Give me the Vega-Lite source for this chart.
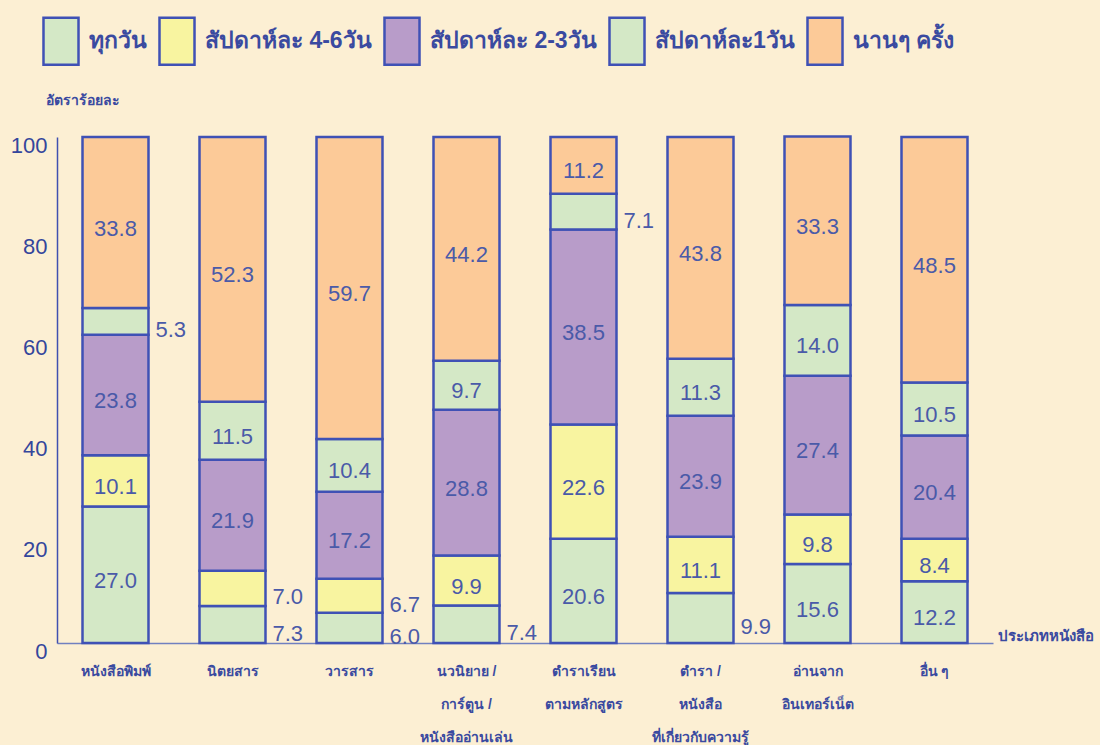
{
  "$schema": "https://vega.github.io/schema/vega-lite/v6.json",
  "width": 936,
  "height": 506,
  "autosize": {"type": "none"},
  "padding": {"left": 57, "top": 137, "right": 107, "bottom": 102},
  "background": "#fcefd3",
  "config": {
    "view": {"stroke": null},
    "font": "Liberation Sans"
  },
  "data": {
    "values": [
      {"cat": "หนังสือพิมพ์", "s": "ทุกวัน", "o": 1, "v": 27.0},
      {"cat": "หนังสือพิมพ์", "s": "สัปดาห์ละ 4-6วัน", "o": 2, "v": 10.1},
      {"cat": "หนังสือพิมพ์", "s": "สัปดาห์ละ 2-3วัน", "o": 3, "v": 23.8},
      {"cat": "หนังสือพิมพ์", "s": "สัปดาห์ละ1วัน", "o": 4, "v": 5.3},
      {"cat": "หนังสือพิมพ์", "s": "นานๆ ครั้ง", "o": 5, "v": 33.8},
      {"cat": "นิตยสาร", "s": "ทุกวัน", "o": 1, "v": 7.3},
      {"cat": "นิตยสาร", "s": "สัปดาห์ละ 4-6วัน", "o": 2, "v": 7.0},
      {"cat": "นิตยสาร", "s": "สัปดาห์ละ 2-3วัน", "o": 3, "v": 21.9},
      {"cat": "นิตยสาร", "s": "สัปดาห์ละ1วัน", "o": 4, "v": 11.5},
      {"cat": "นิตยสาร", "s": "นานๆ ครั้ง", "o": 5, "v": 52.3},
      {"cat": "วารสาร", "s": "ทุกวัน", "o": 1, "v": 6.0},
      {"cat": "วารสาร", "s": "สัปดาห์ละ 4-6วัน", "o": 2, "v": 6.7},
      {"cat": "วารสาร", "s": "สัปดาห์ละ 2-3วัน", "o": 3, "v": 17.2},
      {"cat": "วารสาร", "s": "สัปดาห์ละ1วัน", "o": 4, "v": 10.4},
      {"cat": "วารสาร", "s": "นานๆ ครั้ง", "o": 5, "v": 59.7},
      {"cat": "นวนิยาย /|การ์ตูน /|หนังสืออ่านเล่น", "s": "ทุกวัน", "o": 1, "v": 7.4},
      {"cat": "นวนิยาย /|การ์ตูน /|หนังสืออ่านเล่น", "s": "สัปดาห์ละ 4-6วัน", "o": 2, "v": 9.9},
      {"cat": "นวนิยาย /|การ์ตูน /|หนังสืออ่านเล่น", "s": "สัปดาห์ละ 2-3วัน", "o": 3, "v": 28.8},
      {"cat": "นวนิยาย /|การ์ตูน /|หนังสืออ่านเล่น", "s": "สัปดาห์ละ1วัน", "o": 4, "v": 9.7},
      {"cat": "นวนิยาย /|การ์ตูน /|หนังสืออ่านเล่น", "s": "นานๆ ครั้ง", "o": 5, "v": 44.2},
      {"cat": "ตำราเรียน|ตามหลักสูตร", "s": "ทุกวัน", "o": 1, "v": 20.6},
      {"cat": "ตำราเรียน|ตามหลักสูตร", "s": "สัปดาห์ละ 4-6วัน", "o": 2, "v": 22.6},
      {"cat": "ตำราเรียน|ตามหลักสูตร", "s": "สัปดาห์ละ 2-3วัน", "o": 3, "v": 38.5},
      {"cat": "ตำราเรียน|ตามหลักสูตร", "s": "สัปดาห์ละ1วัน", "o": 4, "v": 7.1},
      {"cat": "ตำราเรียน|ตามหลักสูตร", "s": "นานๆ ครั้ง", "o": 5, "v": 11.2},
      {"cat": "ตำรา /|หนังสือ|ที่เกี่ยวกับความรู้", "s": "ทุกวัน", "o": 1, "v": 9.9},
      {"cat": "ตำรา /|หนังสือ|ที่เกี่ยวกับความรู้", "s": "สัปดาห์ละ 4-6วัน", "o": 2, "v": 11.1},
      {"cat": "ตำรา /|หนังสือ|ที่เกี่ยวกับความรู้", "s": "สัปดาห์ละ 2-3วัน", "o": 3, "v": 23.9},
      {"cat": "ตำรา /|หนังสือ|ที่เกี่ยวกับความรู้", "s": "สัปดาห์ละ1วัน", "o": 4, "v": 11.3},
      {"cat": "ตำรา /|หนังสือ|ที่เกี่ยวกับความรู้", "s": "นานๆ ครั้ง", "o": 5, "v": 43.8},
      {"cat": "อ่านจาก|อินเทอร์เน็ต", "s": "ทุกวัน", "o": 1, "v": 15.6},
      {"cat": "อ่านจาก|อินเทอร์เน็ต", "s": "สัปดาห์ละ 4-6วัน", "o": 2, "v": 9.8},
      {"cat": "อ่านจาก|อินเทอร์เน็ต", "s": "สัปดาห์ละ 2-3วัน", "o": 3, "v": 27.4},
      {"cat": "อ่านจาก|อินเทอร์เน็ต", "s": "สัปดาห์ละ1วัน", "o": 4, "v": 14.0},
      {"cat": "อ่านจาก|อินเทอร์เน็ต", "s": "นานๆ ครั้ง", "o": 5, "v": 33.3},
      {"cat": "อื่น ๆ", "s": "ทุกวัน", "o": 1, "v": 12.2},
      {"cat": "อื่น ๆ", "s": "สัปดาห์ละ 4-6วัน", "o": 2, "v": 8.4},
      {"cat": "อื่น ๆ", "s": "สัปดาห์ละ 2-3วัน", "o": 3, "v": 20.4},
      {"cat": "อื่น ๆ", "s": "สัปดาห์ละ1วัน", "o": 4, "v": 10.5},
      {"cat": "อื่น ๆ", "s": "นานๆ ครั้ง", "o": 5, "v": 48.5}
    ]
  },
  "transform": [
    {"stack": "v", "groupby": ["cat"], "sort": [{"field": "o", "order": "ascending"}], "as": ["y0", "y1"]},
    {"calculate": "(datum.y0 + datum.y1) / 2", "as": "mid"}
  ],
  "encoding": {
    "x": {
      "field": "cat", "type": "nominal", "sort": null,
      "scale": {"paddingInner": 0.436, "paddingOuter": 0.218},
      "axis": {
        "title": "ประเภทหนังสือ",
        "titleX": 940, "titleY": -8, "titleAlign": "left", "titleBaseline": "middle", "titleAnchor": null,
        "titleFontSize": 15, "titleFontWeight": "bold", "titleColor": "#3a4aa0",
        "labelExpr": "split(datum.label, '|')",
        "labelAngle": 0, "labelFontSize": 14, "labelFontWeight": "bold", "labelColor": "#3a4aa0",
        "labelPadding": 28, "labelLineHeight": 33, "labelBaseline": "middle",
        "ticks": false, "domainColor": "#7080c0", "domainWidth": 1.5
      }
    }
  },
  "layer": [
    {
      "mark": {"type": "bar", "stroke": "#3f51b5", "strokeWidth": 2.5},
      "encoding": {
        "y": {"field": "y0", "type": "quantitative", "scale": {"domain": [0, 100]},
          "axis": {
            "title": "อัตราร้อยละ", "titleAngle": 0, "titleX": -12, "titleY": -37, "titleAlign": "left", "titleBaseline": "middle",
            "titleFontSize": 14, "titleFontWeight": "bold", "titleColor": "#3a4aa0",
            "values": [0, 20, 40, 60, 80, 100], "grid": false, "ticks": false,
            "labelFontSize": 22, "labelColor": "#34469c", "labelPadding": 10, "labelOffset": 8,
            "domainColor": "#4050b0", "domainWidth": 1.5
          }},
        "y2": {"field": "y1"},
        "color": {
          "field": "s", "type": "nominal",
          "scale": {
            "domain": ["ทุกวัน", "สัปดาห์ละ 4-6วัน", "สัปดาห์ละ 2-3วัน", "สัปดาห์ละ1วัน", "นานๆ ครั้ง"],
            "range": ["#d4e8c6", "#f8f4a0", "#b89cc9", "#d4e8c6", "#fcca98"]
          },
          "legend": {
            "title": null, "orient": "none", "direction": "horizontal",
            "legendX": -21, "legendY": -121,
            "symbolType": "M-0.745,-1H0.745V1H-0.745Z", "symbolSize": 2209,
            "symbolStrokeColor": "#3f51b5", "symbolStrokeWidth": 2.5, "symbolOpacity": 1,
            "labelFontSize": 23, "labelColor": "#3a4aa0", "labelFontWeight": "bold",
            "labelOffset": 3, "columnPadding": 5, "labelLimit": 300,
            "labelExpr": "datum.label == 'สัปดาห์ละ1วัน' ? '\u00a0' + datum.label : (datum.label == 'นานๆ ครั้ง' ? '\u00a0\u00a0' + datum.label : datum.label)",
            "encode": {
              "symbols": {
                "update": {
                  "shape": {"value": "M-0.745,-1H0.745V1H-0.745Z"},
                  "size": {"value": 2209},
                  "stroke": {"value": "#3f51b5"},
                  "strokeWidth": {"value": 2.5},
                  "opacity": {"value": 1},
                  "fillOpacity": {"value": 1}
                }
              }
            }
          }
        }
      }
    },
    {
      "transform": [{"filter": "!(datum.v < 8 || (datum.o == 1 && datum.v == 9.9))"}],
      "mark": {"type": "text", "fontSize": 22, "color": "#4a5aa8", "baseline": "middle", "dy": 6},
      "encoding": {
        "y": {"field": "mid", "type": "quantitative"},
        "text": {"field": "v", "type": "quantitative", "format": ".1f"}
      }
    },
    {
      "transform": [{"filter": "datum.v < 8 || (datum.o == 1 && datum.v == 9.9)"}],
      "mark": {"type": "text", "fontSize": 22, "color": "#4a5aa8", "baseline": "middle", "align": "left", "dy": 9, "xOffset": 40},
      "encoding": {
        "y": {"field": "mid", "type": "quantitative"},
        "text": {"field": "v", "type": "quantitative", "format": ".1f"}
      }
    }
  ]
}
